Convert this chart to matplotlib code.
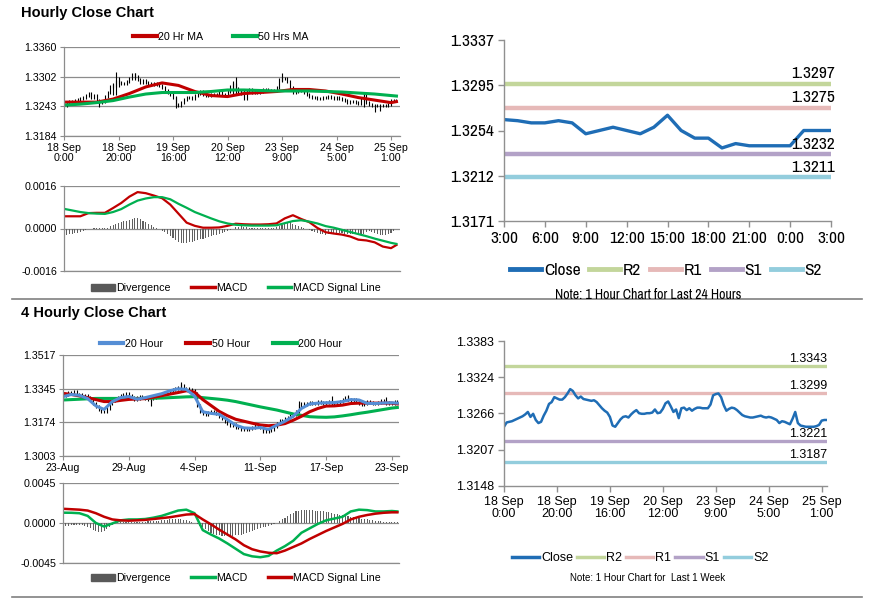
import numpy as np
import matplotlib.pyplot as plt
from matplotlib import font_manager
from matplotlib.patches import Patch
from matplotlib.lines import Line2D

W, H = 873, 601
plt.rcParams['font.family'] = ['Liberation Sans', 'DejaVu Sans']

# narrow font for the 24h panel (first one found)
installed = {f.name for f in font_manager.fontManager.ttflist}
NARROW = ['Liberation Sans']
for cand in ['Liberation Sans Narrow', 'Arial Narrow', 'Archivo Narrow', 'PT Sans Narrow',
             'Roboto Condensed', 'Open Sans Condensed', 'Fira Sans Condensed']:
    if cand in installed:
        NARROW = [cand, 'Liberation Sans']
        break

RED = '#c00000'
GREEN = '#00b050'
BLUE_MA = '#558ed5'
CLOSE = '#1f6db5'
GRID = '#8c8c8c'
DIV = '#606060'
LVL_COL = {'R2': '#c3d69b', 'R1': '#e6b9b8', 'S1': '#b3a2c7', 'S2': '#93cddd'}

# ---------------- data ----------------
# hourly close 18 Sep 0:00 -> 25 Sep 2:00, pips above 1.3200
close_1h_pips = [44, 51, 52, 53, 55, 57, 59, 61, 64, 68,
                 60, 65, 55, 50, 52, 62, 70, 81, 84, 92,
                 90, 88, 88, 92, 98, 105, 102, 95, 90, 93,
                 89, 88, 87, 86, 87, 84, 79, 74, 70, 67,
                 60, 46, 44, 50, 56, 60, 61, 59, 64, 68,
                 71, 66, 65, 65, 66, 66, 67, 72, 66, 67,
                 73, 82, 85, 77, 68, 72, 58, 74, 75, 71,
                 74, 70, 73, 75, 75, 74, 74, 74, 80, 95,
                 97, 98, 92, 79, 70, 73, 75, 74, 71, 67,
                 63, 61, 60, 59, 59, 60, 61, 62, 60, 59,
                 60, 59, 57, 55, 50, 53, 52, 50, 48, 57,
                 68, 50, 46, 45, 44, 44, 44, 44, 45, 47,
                 54, 55, 55]
# long hourly bars: (hour, low, high)
spikes_1h = [(13, 1.3241, 1.3256), (18, 1.3265, 1.3288), (19, 1.3265, 1.3311),
             (20, 1.3280, 1.3301), (26, 1.3295, 1.3308), (41, 1.3240, 1.3262),
             (62, 1.3268, 1.3292), (63, 1.3266, 1.3301), (80, 1.3290, 1.3308),
             (110, 1.3242, 1.3272), (114, 1.3232, 1.3246), (116, 1.3234, 1.3246)]

# hourly moving averages, every 6 hours (last point hour 122), pips above 1.3200
ma_1h_hours = list(range(0, 121, 6)) + [122]
ma20_1h = [51, 51, 51, 57, 68, 81, 89, 84, 72, 64, 62, 68, 70, 72, 76, 76, 73, 67, 60, 55, 50, 52]
ma50_1h = [45, 47, 50, 54, 61, 67, 70, 70, 70, 72, 75, 75, 74, 73, 73, 73, 72, 71, 69, 67, 64, 63]

# hourly MACD, every 3 hours (last point hour 122), units 1e-4
macd_1h_hours = list(range(0, 121, 3)) + [122]
macd_1h = [4.6, 4.6, 4.6, 5.8, 5.9, 5.9, 7.7, 9.6, 12.0, 13.7, 13.3, 12.4, 11.4, 9.0,
           5.6, 2.2, 1.0, 0.3, 0.3, 0.4, 1.0, 1.8, 1.6, 1.5, 1.5, 1.6, 1.9, 3.8, 5.0,
           3.6, 2.4, 0.2, -1.4, -1.9, -2.3, -3.0, -4.2, -4.5, -5.2, -6.8, -7.4, -6.2]
signal_1h = [7.4, 6.8, 6.2, 5.8, 5.6, 5.5, 6.2, 7.3, 9.0, 10.5, 11.3, 11.8, 11.8, 11.0,
             9.3, 7.8, 6.2, 5.0, 3.8, 2.7, 1.9, 1.4, 1.2, 1.1, 1.1, 1.1, 1.2, 2.0, 2.8,
             3.1, 2.6, 1.9, 0.9, 0.3, -0.5, -1.3, -2.1, -2.9, -3.8, -4.6, -5.4, -5.8]
div_1h = [-2.5, -2.3, -2.1, -2.0, -1.8, -1.6, -1.2, -0.8, -0.5, -0.2, 0.0,
          0.2, 0.3, 0.3, 0.2, 0.1, 0.3, 0.8, 1.3, 1.8, 2.2, 2.5,
          2.8, 3.0, 3.2, 3.5, 3.8, 4.0, 3.6, 3.0, 2.4, 1.8, 1.2, 0.6,
          0.2, -0.3, -0.8, -1.5, -2.2, -2.9, -3.6, -4.3, -4.9, -5.3, -5.4, -5.3,
          -5.1, -4.9, -4.6, -4.4, -4.1, -3.8, -3.5, -3.2, -2.9, -2.6, -2.3, -2.0,
          -1.6, -1.2, -0.8, -0.4, 0.0, 0.4, 0.7, 0.8, 0.6, 0.4, 0.3,
          0.3, 0.3, 0.2, 0.2, 0.3, 0.3, 0.2, 0.2, 0.3, 0.4,
          0.8, 1.4, 2.0, 2.3, 2.3, 1.8, 1.2, 0.8, 0.5, 0.3, 0.0, -0.5,
          -1.0, -1.4, -1.7, -2.0, -2.2, -2.3, -2.2, -2.0, -1.9, -1.8, -1.8, -1.8,
          -1.9, -2.0, -2.0, -2.1, -2.2, -2.3, -2.3, -2.0, -1.2, -0.9, -1.3, -1.8,
          -2.2, -2.4, -2.5, -2.5, -2.2, -1.6, -1.0, -0.3]
hour_ticks = ['18 Sep\n0:00', '18 Sep\n20:00', '19 Sep\n16:00', '20 Sep\n12:00',
              '23 Sep\n9:00', '24 Sep\n5:00', '25 Sep\n1:00']

# 4-hourly close, pips above 1.3100
close_4h_pips = [210, 218, 225, 222, 230, 218, 215, 208, 212, 200,
                 190, 170, 155, 140, 130, 128, 145, 168, 185, 195,
                 200, 210, 215, 220, 210, 200, 190, 198, 205, 200,
                 196, 190, 195, 200, 210, 218, 222, 220, 228, 235,
                 240, 245, 252, 260, 248, 245, 240, 238, 220, 160,
                 130, 120, 115, 125, 130, 125, 120, 105, 95, 80,
                 70, 60, 65, 50, 48, 40, 45, 40, 45, 50,
                 60, 58, 50, 40, 30, 35, 40, 55, 70, 85,
                 80, 95, 100, 110, 115, 130, 162, 170, 165, 172,
                 175, 168, 172, 178, 175, 170, 175, 178, 172, 168,
                 175, 182, 190, 198, 192, 185, 190, 180, 170, 165,
                 172, 178, 175, 170, 172, 175, 185, 180, 175, 170,
                 172, 178, 174]
spikes_4h = [(32, 1.3255, 1.3300), (43, 1.3335, 1.3378), (73, 1.3118, 1.3150),
             (86, 1.3230, 1.3285), (98, 1.3265, 1.3310), (104, 1.3285, 1.3315),
             (118, 1.3265, 1.3305)]

ma_4h_bars = list(range(0, 121, 3)) + [122]
ma20_4h = [1.3305, 1.3316, 1.3312, 1.3295, 1.3258, 1.3240, 1.3280, 1.3300, 1.3306, 1.3292,
           1.3300, 1.3310, 1.3320, 1.3335, 1.3345, 1.3342, 1.3308, 1.3228, 1.3220, 1.3215,
           1.3188, 1.3160, 1.3146, 1.3144, 1.3148, 1.3138, 1.3160, 1.3180, 1.3205, 1.3245,
           1.3268, 1.3272, 1.3274, 1.3275, 1.3280, 1.3290, 1.3288, 1.3271, 1.3270, 1.3273,
           1.3274, 1.3272]
ma50_4h = [1.3322, 1.3316, 1.3309, 1.3300, 1.3290, 1.3280, 1.3280, 1.3286, 1.3291, 1.3293,
           1.3295, 1.3302, 1.3310, 1.3318, 1.3326, 1.3335, 1.3328, 1.3290, 1.3260, 1.3230,
           1.3208, 1.3190, 1.3180, 1.3170, 1.3161, 1.3157, 1.3160, 1.3168, 1.3185, 1.3205,
           1.3228, 1.3245, 1.3257, 1.3258, 1.3262, 1.3270, 1.3272, 1.3272, 1.3272, 1.3272,
           1.3272, 1.3268]
ma200_4h = [1.3288, 1.3290, 1.3292, 1.3294, 1.3296, 1.3296, 1.3296, 1.3296, 1.3296, 1.3296,
            1.3296, 1.3297, 1.3298, 1.3300, 1.3302, 1.3304, 1.3305, 1.3300, 1.3296, 1.3292,
            1.3287, 1.3280, 1.3271, 1.3262, 1.3253, 1.3245, 1.3237, 1.3227, 1.3217, 1.3210,
            1.3203, 1.3201, 1.3200, 1.3202, 1.3207, 1.3213, 1.3220, 1.3226, 1.3233, 1.3240,
            1.3247, 1.3250]

macd_4h = [11.6, 11.5, 11.0, 8.0, 0.0, -4.0, -0.5, 3.0, 4.0, 4.0, 4.5, 6.0, 8.0, 11.0,
           14.0, 15.0, 11.0, -8.0, -13.0, -17.5, -23.0, -29.0, -35.0, -37.5, -38.5, -37.0,
           -31.0, -26.0, -20.0, -11.0, -6.0, -1.0, 3.0, 5.0, 7.0, 13.0, 15.0, 14.5, 13.0,
           13.0, 13.5, 13.0]
signal_4h = [16.0, 15.5, 15.0, 14.0, 11.0, 7.0, 4.0, 3.0, 2.6, 3.0, 3.5, 4.5, 5.5, 6.5,
             8.0, 9.5, 10.0, 4.0, -1.5, -7.5, -13.0, -18.5, -25.0, -29.5, -32.0, -33.5,
             -34.0, -31.0, -27.0, -23.0, -18.0, -13.5, -9.0, -5.0, -1.0, 4.0, 7.0, 9.0,
             10.5, 11.5, 12.0, 12.0]
div_4h = [-3, -3, -3, -2.5, -2.5, -2, -2, -2.5, -3,
          -4, -6, -8, -9.5, -10, -10, -9, -7, -4,
          -2, 0, 1, 1, 1, 1,
          1, 1, 1, 1, 1.5, 1.5, 1.5, 2, 2, 2, 2.5, 2.5,
          3, 3, 3.5, 4, 4, 4.5, 4.5, 4, 3.5, 3, 2,
          1, 0, -1.5, -3,
          -5, -7, -9, -11, -12, -13, -14, -14.5, -15, -15,
          -15, -14.5, -14, -13.5, -13, -12, -11, -10, -9, -8,
          -7, -6, -5, -4, -3, -2, -1, 0,
          2, 4, 6, 8, 10, 11.5, 13, 14,
          14.5, 15, 15, 15, 14.5, 14, 14, 13.5, 13, 12.5,
          12, 11, 10.5, 10, 9.5, 9, 8.5, 8, 7, 6.5,
          6, 5.5, 5, 4.5, 4, 3.5, 3, 2.5,
          2, 2, 1.5, 1.5, 1.5, 1, 1, 1]
day_ticks = ['23-Aug', '29-Aug', '4-Sep', '11-Sep', '17-Sep', '23-Sep']

# last 24 hours close (3:00 -> 3:00)
close_24h = [1.3264, 1.3263, 1.3261, 1.3261, 1.3263, 1.3261, 1.3251, 1.3254, 1.3257,
             1.3254, 1.3251, 1.3257, 1.3268, 1.3254, 1.3247, 1.3247, 1.3238, 1.3242,
             1.3240, 1.3240, 1.3240, 1.3240, 1.3254, 1.3254, 1.3254]
ticks_24h = ['3:00', '6:00', '9:00', '12:00', '15:00', '18:00', '21:00', '0:00', '3:00']
levels_24h = {'R2': 1.3297, 'R1': 1.3275, 'S1': 1.3232, 'S2': 1.3211}
levels_1w = {'R2': 1.3343, 'R1': 1.3299, 'S1': 1.3221, 'S2': 1.3187}


def box(x0, y0, x1, y1):
    return [x0 / W, 1 - y1 / H, (x1 - x0) / W, (y1 - y0) / H]


def fig_xy(x, y):
    return (x / W, 1 - y / H)


def style_left(ax):
    for s in ['top', 'right']:
        ax.spines[s].set_visible(False)
    for s in ['left', 'bottom']:
        ax.spines[s].set_color(GRID)
        ax.spines[s].set_linewidth(0.9)
    ax.grid(axis='y', color=GRID, lw=0.9)
    ax.set_axisbelow(True)
    ax.tick_params(colors=GRID, labelcolor='black', labelsize=7.7, length=3,
                   width=0.8, direction='out', pad=2)


def style_right(ax):
    for s in ['top', 'right']:
        ax.spines[s].set_visible(False)
    for s in ['left', 'bottom']:
        ax.spines[s].set_color('#909090')
        ax.spines[s].set_linewidth(1.0)
    ax.tick_params(colors='#909090', labelcolor='black', length=4, width=1.0,
                   direction='out', pad=3)


def price_bars(ax, x, close, wick, spikes):
    opens = np.r_[close[0], close[:-1]]
    lo = np.minimum(opens, close) - wick
    hi = np.maximum(opens, close) + wick
    ax.vlines(x, lo, hi, color='black', lw=0.8)
    for s in spikes:
        ax.vlines(s[0], s[1], s[2], color='black', lw=0.8)


def leg(ax, handles, labels, cx, cy, size, hl, sp, fam=None):
    lg = ax.legend(handles, labels, loc='center', bbox_to_anchor=fig_xy(cx, cy),
                   bbox_transform=ax.figure.transFigure, ncol=len(handles),
                   frameon=False, fontsize=size, handlelength=hl, handletextpad=0.15,
                   columnspacing=sp, borderaxespad=0, borderpad=0)
    if fam:
        for t in lg.get_texts():
            t.set_fontfamily(fam)
    return lg


fig = plt.figure(figsize=(W / 100, H / 100), dpi=100)

fig.text(*fig_xy(21, 13), 'Hourly Close Chart', fontsize=10.5, fontweight='bold', va='center')
fig.text(*fig_xy(21, 313), '4 Hourly Close Chart', fontsize=10.5, fontweight='bold', va='center')
for yy in [299, 597]:
    fig.add_artist(Line2D([12 / W, 862 / W], [1 - yy / H] * 2, color='#808080', lw=1.2))

# ---- hourly price ----
c1 = 1.32 + np.array(close_1h_pips) / 1e4
hrs = np.arange(len(c1))
ax = fig.add_axes(box(64, 47, 400, 136))
style_left(ax)
price_bars(ax, hrs, c1, 0.0003, spikes_1h)
ax.plot(ma_1h_hours, 1.32 + np.array(ma20_1h) / 1e4, color=RED, lw=2.2)
ax.plot(ma_1h_hours, 1.32 + np.array(ma50_1h) / 1e4, color=GREEN, lw=2.2)
ax.set_xlim(0, 123.3)
ax.set_ylim(1.3184, 1.3360)
ax.set_yticks(np.linspace(1.3184, 1.3360, 4))
ax.set_yticklabels(['1.3184', '1.3243', '1.3302', '1.3360'])
ax.set_xticks(range(0, 121, 20))
ax.set_xticklabels(hour_ticks, linespacing=1.0)
leg(ax, [Line2D([], [], color=RED, lw=3), Line2D([], [], color=GREEN, lw=3)],
    ['20 Hr MA', '50 Hrs MA'], 221, 37, 7.7, 2.2, 2.8)

# ---- hourly MACD ----
ax = fig.add_axes(box(64, 186, 400, 271))
style_left(ax)
ax.bar(np.arange(len(div_1h)), np.array(div_1h) / 1e4, width=0.4, color=DIV)
ax.plot(macd_1h_hours, np.array(macd_1h) / 1e4, color=RED, lw=1.6)
ax.plot(macd_1h_hours, np.array(signal_1h) / 1e4, color=GREEN, lw=1.6)
ax.set_xlim(0, 123.3)
ax.set_ylim(-0.0016, 0.0016)
ax.set_yticks([-0.0016, 0, 0.0016])
ax.set_yticklabels(['-0.0016', '0.0000', '0.0016'])
ax.set_xticks([])
leg(ax, [Patch(color='#595959'), Line2D([], [], color=RED, lw=2.5),
         Line2D([], [], color=GREEN, lw=2.5)],
    ['Divergence', 'MACD', 'MACD Signal Line'], 236, 288, 7.7, 2.2, 1.9)

# ---- last 24 hours ----
ax = fig.add_axes(box(504, 40, 831, 221))
style_right(ax)
for k, v in levels_24h.items():
    ax.axhline(v, color=LVL_COL[k], lw=3.2)
    ax.annotate(f'{v:.4f}', xy=(1.0, v), xycoords=('axes fraction', 'data'),
                xytext=(3, 2), textcoords='offset points', ha='right', va='bottom',
                fontsize=12.5, fontfamily=NARROW)
ax.plot(np.arange(len(close_24h)), close_24h, color=CLOSE, lw=2.4)
ax.set_xlim(0, 24)
ax.set_ylim(1.3171, 1.3337)
ax.set_yticks(np.linspace(1.3171, 1.3337, 5))
ax.set_yticklabels(['1.3171', '1.3212', '1.3254', '1.3295', '1.3337'],
                   fontsize=12.5, fontfamily=NARROW)
ax.set_xticks(range(0, 25, 3))
ax.set_xticklabels(ticks_24h, fontsize=12.5, fontfamily=NARROW)
leg(ax, [Line2D([], [], color=CLOSE, lw=3.5)] +
    [Line2D([], [], color=LVL_COL[k], lw=3.5) for k in levels_24h],
    ['Close'] + list(levels_24h), 666, 270, 12.5, 1.8, 0.5, NARROW)
fig.text(*fig_xy(648, 295), 'Note: 1 Hour Chart for Last 24 Hours', fontsize=10,
         fontfamily=NARROW, ha='center', va='center')

# ---- 4 hourly price ----
c4 = 1.31 + np.array(close_4h_pips) / 1e4
bars4 = np.arange(len(c4))
ax = fig.add_axes(box(63, 355, 399, 456))
style_left(ax)
price_bars(ax, bars4, c4, 0.0008, spikes_4h)
ax.plot(ma_4h_bars, ma200_4h, color=GREEN, lw=2.2)
ax.plot(ma_4h_bars, ma50_4h, color=RED, lw=2.2)
ax.plot(ma_4h_bars, ma20_4h, color=BLUE_MA, lw=2.2)
ax.set_xlim(0, 122.6)
ax.set_ylim(1.3003, 1.3517)
ax.set_yticks(np.linspace(1.3003, 1.3517, 4))
ax.set_yticklabels(['1.3003', '1.3174', '1.3345', '1.3517'])
ax.set_xticks(range(0, 121, 24))
ax.set_xticklabels(day_ticks)
leg(ax, [Line2D([], [], color=BLUE_MA, lw=3), Line2D([], [], color=RED, lw=3),
         Line2D([], [], color=GREEN, lw=3)],
    ['20 Hour', '50 Hour', '200 Hour'], 221, 344, 7.7, 2.2, 2.2)

# ---- 4 hourly MACD ----
ax = fig.add_axes(box(63, 483, 399, 563))
style_left(ax)
ax.bar(np.arange(len(div_4h)), np.array(div_4h) / 1e4, width=0.4, color=DIV)
ax.plot(ma_4h_bars, np.array(macd_4h) / 1e4, color=GREEN, lw=1.8)
ax.plot(ma_4h_bars, np.array(signal_4h) / 1e4, color=RED, lw=1.8)
ax.set_xlim(0, 122.6)
ax.set_ylim(-0.0045, 0.0045)
ax.set_yticks([-0.0045, 0, 0.0045])
ax.set_yticklabels(['-0.0045', '0.0000', '0.0045'])
ax.set_xticks([])
leg(ax, [Patch(color='#595959'), Line2D([], [], color=GREEN, lw=2.5),
         Line2D([], [], color=RED, lw=2.5)],
    ['Divergence', 'MACD', 'MACD Signal Line'], 236, 578, 7.7, 2.2, 1.9)

# ---- last 1 week ----
ax = fig.add_axes(box(504, 341, 827, 486))
style_right(ax)
for k, v in levels_1w.items():
    ax.axhline(v, color=LVL_COL[k], lw=2.4)
    ax.annotate(f'{v:.4f}', xy=(1.0, v), xycoords=('axes fraction', 'data'),
                xytext=(0, 0.5), textcoords='offset points', ha='right', va='bottom',
                fontsize=9)
ax.plot(hrs, c1, color=CLOSE, lw=1.8)
ax.set_xlim(0, 122)
ax.set_ylim(1.3148, 1.3383)
ax.set_yticks(np.linspace(1.3148, 1.3383, 5))
ax.set_yticklabels(['1.3148', '1.3207', '1.3266', '1.3324', '1.3383'], fontsize=9)
ax.set_xticks(range(0, 121, 20))
ax.set_xticklabels(hour_ticks, fontsize=9, linespacing=1.0)
leg(ax, [Line2D([], [], color=CLOSE, lw=2.5)] +
    [Line2D([], [], color=LVL_COL[k], lw=2.5) for k in levels_1w],
    ['Close'] + list(levels_1w), 640, 558, 9, 2.2, 0.3)
fig.text(*fig_xy(648, 578), 'Note: 1 Hour Chart for  Last 1 Week', fontsize=7,
         ha='center', va='center')

fig.savefig('out.png', dpi=100)
